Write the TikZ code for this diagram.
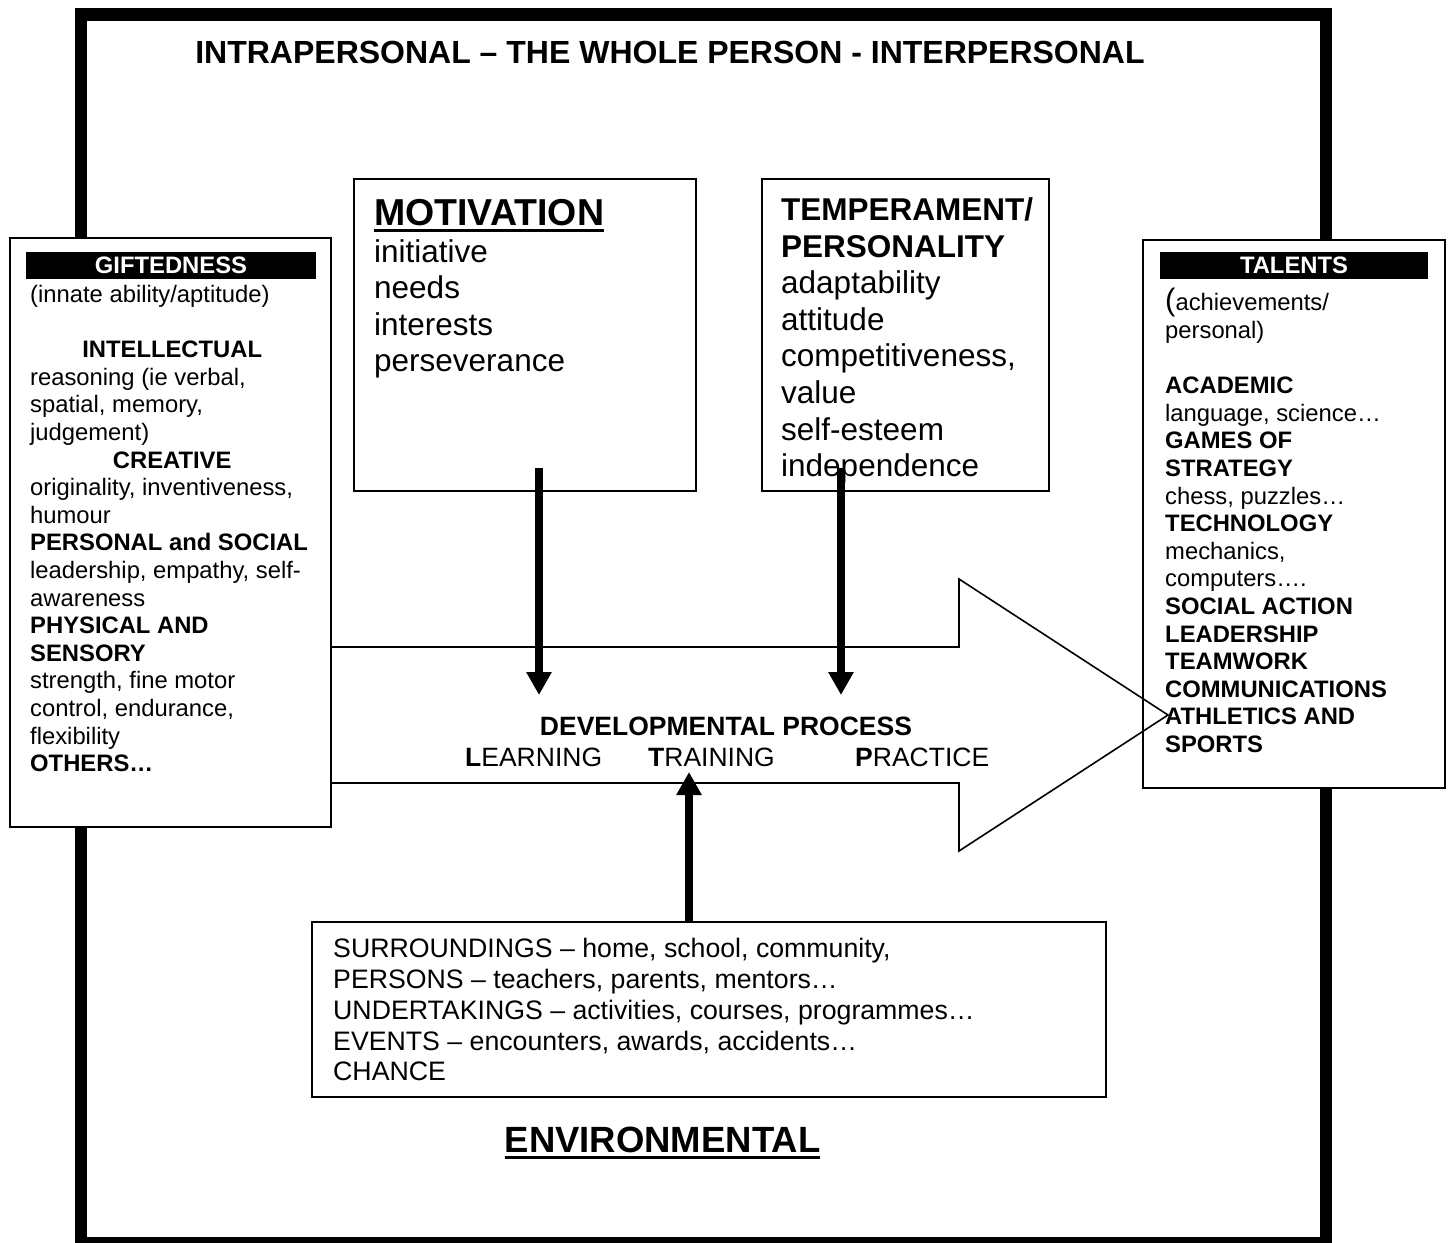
\documentclass[tikz,border=0pt]{standalone}
\usepackage{fontspec}
\setmainfont{Liberation Sans}
\usetikzlibrary{arrows.meta}
\tikzset{
  panel/.style={
    draw=black,
    line width=1.6pt,
    fill=white,
    inner sep=0pt
  },
  label-bar/.style={fill=black, text=white, inner sep=0pt, minimum height=27pt,
    font=\fontsize{23.8}{26}\selectfont\bfseries},
  small-list/.style={anchor=north west, inner sep=0pt, align=left,
    font=\fontsize{23.8}{27.6}\selectfont},
  big-list/.style={anchor=north west, inner sep=0pt, align=left,
    font=\fontsize{31.5}{36.6}\selectfont},
  env-list/.style={anchor=north west, inner sep=0pt, align=left,
    font=\fontsize{26.7}{30.75}\selectfont},
  plain-text/.style={inner sep=0pt, anchor=base west},
  heavy-arrow/.style={line width=8pt, -{Triangle[length=23pt,width=24pt]}},
  outline/.style={draw=black, line width=1.6pt, line join=miter}
}
\newcommand{\firstline}{\rule{0pt}{30pt}}
\newcommand{\ulbox}[1]{\setbox0\hbox{#1}\rlap{\rule[-7pt]{\wd0}{3.2pt}}\box0}
\newcommand{\wholeframe}{
  \useasboundingbox (0,0) rectangle (1452,1243);
  \draw[line width=12.5pt] (81,14.5) rectangle (1326,1243);
}

\begin{document}
\begin{tikzpicture}[x=1pt, y=-1pt]
  \wholeframe

  % --- Title ---
  \node[inner sep=0pt, anchor=base, font=\fontsize{32}{36}\selectfont\bfseries]
    (title) at (670,63.5) {INTRAPERSONAL – THE WHOLE PERSON - INTERPERSONAL};

  % --- Side panels ---
  \node[panel, minimum width=321, minimum height=589] (gift) at (170.5,532.5) {};
  \node[label-bar, minimum width=290] (gift-bar) at (171,265.5) {GIFTEDNESS};
  \node[small-list] (gift-text) at (30,272.3) {\firstline(innate ability/aptitude)\\[27.6pt]
    \makebox[284pt]{\bfseries INTELLECTUAL}\\
    reasoning (ie verbal,\\
    spatial, memory,\\
    judgement)\\
    \makebox[284pt]{\bfseries CREATIVE}\\
    originality, inventiveness,\\
    humour\\
    \textbf{PERSONAL and SOCIAL}\\
    leadership, empathy, self-\\
    awareness\\
    \textbf{PHYSICAL AND}\\
    \textbf{SENSORY}\\
    strength, fine motor\\
    control, endurance,\\
    flexibility\\
    \textbf{OTHERS…}};

  \node[panel, minimum width=302, minimum height=548] (talents) at (1294,514) {};
  \node[label-bar, minimum width=268] (talents-bar) at (1294,265.5) {TALENTS};
  \node[small-list] (talents-text) at (1165,280.7) {\firstline{\fontsize{31}{27.6}\selectfont(}achievements/\\
    personal)\\[27.6pt]
    \textbf{ACADEMIC}\\
    language, science…\\
    \textbf{GAMES OF}\\
    \textbf{STRATEGY}\\
    chess, puzzles…\\
    \textbf{TECHNOLOGY}\\
    mechanics,\\
    computers….\\
    \textbf{SOCIAL ACTION}\\
    \textbf{LEADERSHIP}\\
    \textbf{TEAMWORK}\\
    \textbf{COMMUNICATIONS}\\
    \textbf{ATHLETICS AND}\\
    \textbf{SPORTS}};

  % --- Developmental process (big arrow) ---
  \draw[outline] (331,647) -- (959,647) -- (959,579) -- (1168,715)
    -- (959,851) -- (959,783) -- (331,783);
  \node[inner sep=0pt, anchor=base, font=\fontsize{26.5}{30}\selectfont\bfseries]
    (dev-title) at (726,735.5) {DEVELOPMENTAL PROCESS};
  \node[plain-text, font=\fontsize{26.5}{30}\selectfont] (learning) at (465,766.5) {\textbf{L}EARNING};
  \node[plain-text, font=\fontsize{26.5}{30}\selectfont] (training) at (648,766.5) {\textbf{T}RAINING};
  \node[plain-text, font=\fontsize{26.5}{30}\selectfont] (practice) at (855,766.5) {\textbf{P}RACTICE};

  % --- Upper boxes ---
  \node[panel, minimum width=342, minimum height=312] (motiv) at (525,335) {};
  \node[big-list] (motiv-text) at (374,195.2) {\firstline{\fontsize{37.5}{36.6}\selectfont\bfseries\ulbox{MOTIVATION}}\\
    initiative\\
    needs\\
    interests\\
    perseverance};

  \node[panel, minimum width=287, minimum height=312] (temper) at (905.5,335) {};
  \node[big-list] (temper-text) at (781,190.3) {\firstline\textbf{TEMPERAMENT/}\\
    \textbf{PERSONALITY}\\
    adaptability\\
    attitude\\
    competitiveness,\\
    value\\
    self-esteem\\
    independence};

  % --- Environment ---
  \node[panel, minimum width=794, minimum height=175] (env) at (709,1009.5) {};
  \node[env-list] (env-text) at (333,927.6) {\firstline SURROUNDINGS – home, school, community,\\
    PERSONS – teachers, parents, mentors…\\
    UNDERTAKINGS – activities, courses, programmes…\\
    EVENTS – encounters, awards, accidents…\\
    CHANCE};
  \node[inner sep=0pt, anchor=base, font=\fontsize{36.5}{40}\selectfont\bfseries]
    (env-title) at (662.5,1152) {\ulbox{ENVIRONMENTAL}};

  % --- Influences ---
  \coordinate (motiv-src) at (539,468);
  \coordinate (motiv-dst) at (539,695);
  \coordinate (temper-src) at (841,468);
  \coordinate (temper-dst) at (841,695);
  \coordinate (env-src) at (689,922);
  \coordinate (env-dst) at (689,772);
  \draw[heavy-arrow] (motiv-src) -- (motiv-dst);
  \draw[heavy-arrow] (temper-src) -- (temper-dst);
  \draw[heavy-arrow] (env-src) -- (env-dst);
\end{tikzpicture}
\end{document}
